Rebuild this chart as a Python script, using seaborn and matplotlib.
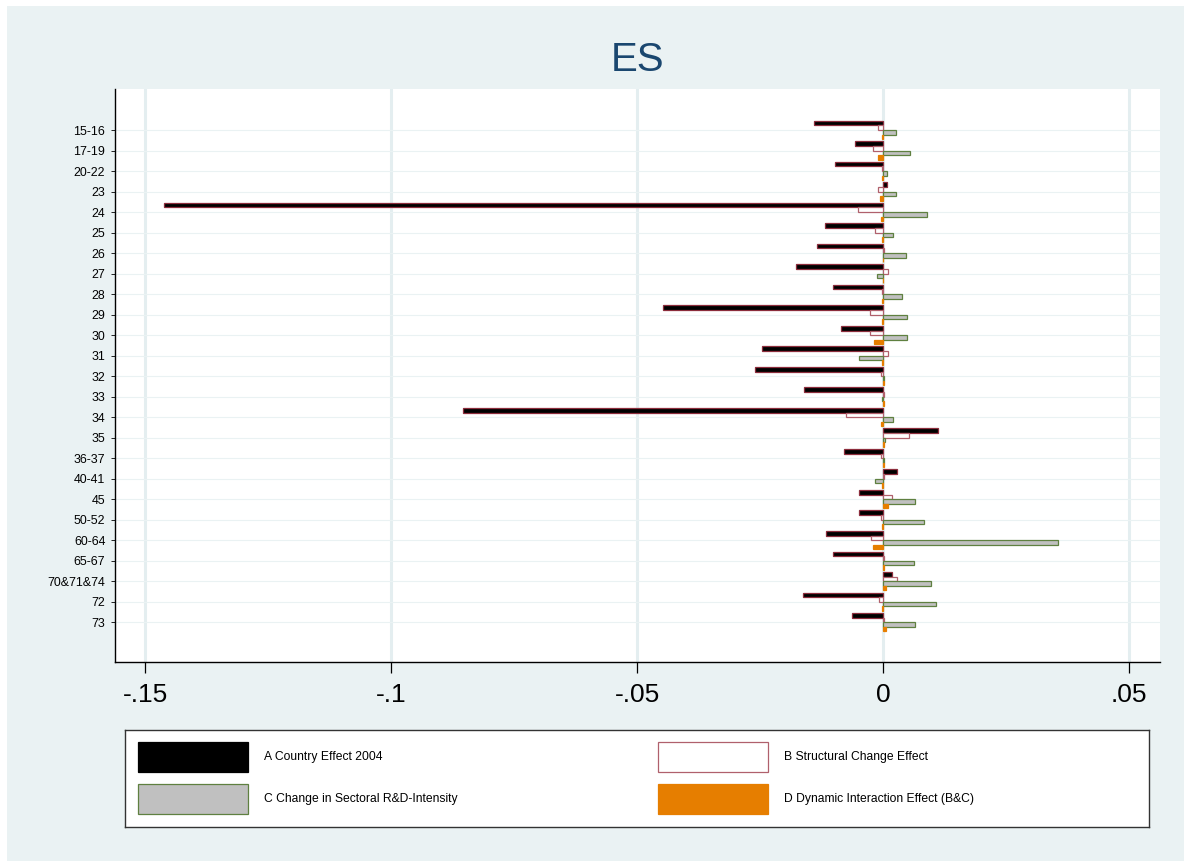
import matplotlib
matplotlib.use("Agg")
import matplotlib.pyplot as plt
from matplotlib.patches import Rectangle
import numpy as np
import pandas as pd
import seaborn as sns

# Sectors (NACE codes) and the four decomposition components
sectors = ["15-16", "17-19", "20-22", "23", "24", "25", "26", "27", "28", "29",
           "30", "31", "32", "33", "34", "35", "36-37", "40-41", "45", "50-52",
           "60-64", "65-67", "70&71&74", "72", "73"]

country_effect = [-0.0140, -0.0057, -0.0097, 0.0009, -0.1461, -0.0118, -0.0134, -0.0176,
                  -0.0102, -0.0447, -0.0085, -0.0246, -0.0260, -0.0161, -0.0854, 0.0112,
                  -0.0079, 0.0028, -0.0048, -0.0048, -0.0115, -0.0102, 0.0018, -0.0162,
                  -0.0064]
structural_change = [-0.0011, -0.0021, -0.0003, -0.0011, -0.0050, -0.0016, 0.0002, 0.0011,
                     -0.0002, -0.0026, -0.0026, 0.0010, -0.0004, 0.0002, -0.0075, 0.0052,
                     -0.0004, 0.0002, 0.0018, -0.0004, -0.0024, 0.0002, 0.0028, -0.0008,
                     0.0002]
rd_intensity = [0.0027, 0.0054, 0.0009, 0.0027, 0.0090, 0.0021, 0.0047, -0.0013,
                0.0038, 0.0049, 0.0049, -0.0048, 0.0003, -0.0003, 0.0020, 0.0005,
                0.0002, -0.0017, 0.0066, 0.0083, 0.0356, 0.0064, 0.0097, 0.0107,
                0.0066]
dynamic_interaction = [-0.0002, -0.0011, -0.0003, -0.0006, -0.0004, -0.0003, 0.0001, -0.0001,
                       -0.0002, -0.0003, -0.0019, -0.0003, 0.0002, 0.0002, -0.0004, 0.0002,
                       0.0002, -0.0002, 0.0011, -0.0003, -0.0021, 0.0002, 0.0007, -0.0003,
                       0.0007]

series_labels = ["A Country Effect 2004", "B Structural Change Effect",
                 "C Change in Sectoral R&D-Intensity", "D Dynamic Interaction Effect (B&C)"]

xtick_values = [-0.15, -0.10, -0.05, 0.0, 0.05]
xtick_labels = ["-.15", "-.1", "-.05", "0", ".05"]

fills = ["#000000", "#ffffff", "#c0c0c0", "#e67e00"]
edges = ["#8c2d3c", "#b0606c", "#5f8040", "#e67e00"]

df = pd.DataFrame({
    "sector": sectors * 4,
    "series": np.repeat(series_labels, len(sectors)),
    "value": country_effect + structural_change + rd_intensity + dynamic_interaction,
})

plt.rcParams["font.family"] = ["Liberation Sans", "DejaVu Sans"]

W, H = 1184, 861
fig = plt.figure(figsize=(W / 100, H / 100), dpi=100, facecolor="white")
# graph region background
fig.patches.append(Rectangle((7 / W, 0), 1 - 7 / W, 1 - 6 / H, transform=fig.transFigure,
                             facecolor="#eaf2f3", edgecolor="none", zorder=-10))

ax = fig.add_axes([115 / W, 1 - 662 / H, (1160 - 115) / W, (662 - 89) / H])
ax.set_facecolor("white")

sns.barplot(data=df, x="value", y="sector", hue="series", hue_order=series_labels,
            order=sectors, orient="h", palette=fills, saturation=1, width=0.88,
            legend=False, errorbar=None, ax=ax)

for cont, ec in zip(ax.containers, edges):
    for bar in cont:
        bar.set_edgecolor(ec)
        bar.set_linewidth(0.9)
        bar.set_zorder(3)

ax.set_xlim(-0.1561, 0.0563)
ax.set_ylim(len(sectors) - 1 + 1.95, -2.0)

ax.set_xticks(xtick_values)
ax.set_xticklabels(xtick_labels, fontsize=19)
ax.set_yticks(range(len(sectors)))
ax.set_yticklabels(sectors, fontsize=8.9)
ax.tick_params(axis="x", length=8, width=0.9, pad=7, color="black")
ax.tick_params(axis="y", length=3, width=0.6, pad=4, color="black")

ax.set_xlabel("")
ax.set_ylabel("")
ax.set_axisbelow(True)
ax.xaxis.grid(True, color="#e4eef0", linewidth=2.2, zorder=0)
ax.yaxis.grid(True, color="#eaf2f3", linewidth=0.8, zorder=0)
for side in ["top", "right"]:
    ax.spines[side].set_visible(False)
for side in ["left", "bottom"]:
    ax.spines[side].set_color("black")
    ax.spines[side].set_linewidth(1.0)

fig.text(638 / W, 1 - 60 / H, "ES", ha="center", va="center", fontsize=29, color="#1a476f")

# legend box
lx0, ly0, lx1, ly1 = 125, 730, 1149, 827
lax = fig.add_axes([lx0 / W, 1 - ly1 / H, (lx1 - lx0) / W, (ly1 - ly0) / H])
lax.set_xlim(0, lx1 - lx0)
lax.set_ylim(ly1 - ly0, 0)
lax.set_xticks([])
lax.set_yticks([])
lax.set_facecolor("white")
for s in lax.spines.values():
    s.set_color("#333333")
    s.set_linewidth(1.0)

key_pos = [(13, 12), (533, 12), (13, 54), (533, 54)]
for (kx, ky), lab, fc, ec in zip(key_pos, series_labels, fills, edges):
    kec = ec if lab[0] != "A" else "#000000"
    lax.add_patch(Rectangle((kx, ky), 110, 30, facecolor=fc, edgecolor=kec, linewidth=0.9))
    lax.text(kx + 126, ky + 15, lab, ha="left", va="center", fontsize=8.7, color="black")

fig.savefig("out.png", dpi=100, facecolor=fig.get_facecolor())
